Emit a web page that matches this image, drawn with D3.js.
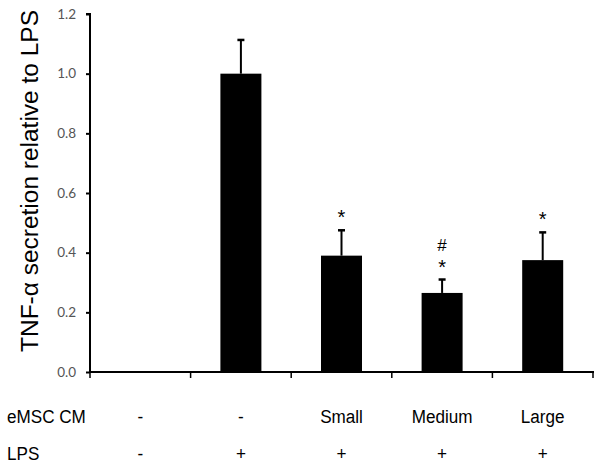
<!DOCTYPE html>
<html><head><meta charset="utf-8">
<script src="https://cdn.jsdelivr.net/npm/d3@7"></script>
<style>body{margin:0;background:#fff}svg{display:block}</style>
</head><body>
<svg id="c" width="603" height="468"></svg>
<script>
const categories = ["ctrl", "LPS", "Small", "Medium", "Large"];
const values = [0, 1.0, 0.39, 0.265, 0.375];
const errors = [0, 0.113, 0.085, 0.045, 0.093];
const marks = [[], [], ["*"], ["*", "#"], ["*"]];
const yTicks = [0, 0.2, 0.4, 0.6, 0.8, 1.0, 1.2];
const rowLabels = ["eMSC CM", "LPS"];
const emscRow = ["-", "-", "Small", "Medium", "Large"];
const lpsRow = ["-", "+", "+", "+", "+"];

const svg = d3.select("#c");
const x0 = 90, x1 = 593, yTop = 14, yBot = 372;
const xb = d3.scaleBand().domain(categories).range([x0, x1]);
const y = d3.scaleLinear().domain([0, 1.2]).range([yBot, yTop]);
const cx = c => xb(c) + xb.bandwidth()/2;

// bars
svg.selectAll("rect.bar").data(categories).join("rect")
  .attr("x", d => cx(d) - 20.5)
  .attr("width", 41)
  .attr("y", (d,i) => y(values[i]))
  .attr("height", (d,i) => yBot - y(values[i]))
  .attr("fill", "#000");

// error bars (upper only) + significance marks
categories.forEach((c,i) => {
  if (!errors[i]) return;
  const px = cx(c), top = y(values[i]+errors[i]);
  svg.append("line").attr("x1", px).attr("x2", px)
    .attr("y1", y(values[i])).attr("y2", top)
    .attr("stroke", "#000").attr("stroke-width", 2);
  svg.append("line").attr("x1", px-3.5).attr("x2", px+3.5)
    .attr("y1", top).attr("y2", top)
    .attr("stroke", "#000").attr("stroke-width", 2.5);
  marks[i].forEach(m => {
    svg.append("text").attr("x", px)
      .attr("y", m === "*" ? top - 6 : top - 29)
      .attr("text-anchor", "middle")
      .attr("font-family", "Liberation Sans, Arial, sans-serif")
      .attr("font-size", m === "*" ? 20 : 17)
      .attr("fill", "#000").text(m);
  });
});

// y axis
const yAxis = d3.axisLeft(y).tickValues(yTicks).tickFormat(d3.format(".1f")).tickSize(4).tickPadding(10);
const gy = svg.append("g").attr("transform", `translate(${x0},0)`).call(yAxis);
gy.select(".domain").attr("d", `M-4,${yTop}H0V${yBot}`).attr("stroke-width", 2);
gy.selectAll(".tick line").attr("stroke-width", 2);
gy.selectAll(".tick text").attr("font-family", "Lato, 'Open Sans', sans-serif").attr("font-size", 13.5).attr("fill", "#555");

// x axis
const gx = svg.append("g").attr("transform", `translate(0,${yBot})`);
gx.append("line").attr("x1", x0-1).attr("x2", x1+1).attr("stroke", "#000").attr("stroke-width", 2);
const bounds = categories.map(c => xb(c)).concat([x1]);
gx.selectAll("line.t").data(bounds).join("line").attr("class","t")
  .attr("x1", d=>d).attr("x2", d=>d).attr("y1", 0).attr("y2", 6)
  .attr("stroke", "#000").attr("stroke-width", 1.5);

// y label
svg.append("text")
  .attr("transform", "translate(38,181) rotate(-90)")
  .attr("text-anchor", "middle")
  .attr("font-family", "Liberation Sans, Arial, sans-serif")
  .attr("font-size", 23).attr("fill", "#000")
  .attr("textLength", 342).attr("lengthAdjust", "spacingAndGlyphs")
  .text("TNF-α secretion relative to LPS");

// condition table
const rowY = [423, 460];
const font = "'Liberation Sans', Arial, sans-serif";
const sx = 0.9;
rowLabels.forEach((r, j) => {
  svg.append("text").attr("transform", `translate(7,${rowY[j]}) scale(${sx},1)`)
    .attr("font-family", font).attr("font-size", 19).attr("fill", "#000").text(r);
});
[emscRow, lpsRow].forEach((row, j) => {
  svg.selectAll(null).data(row).join("text")
    .attr("transform", (d,i) => `translate(${cx(categories[i])},${rowY[j]}) scale(${sx},1)`)
    .attr("text-anchor", "middle")
    .attr("font-family", font).attr("font-size", 19).attr("fill", "#000")
    .text(d => d);
});
</script>
</body></html>
